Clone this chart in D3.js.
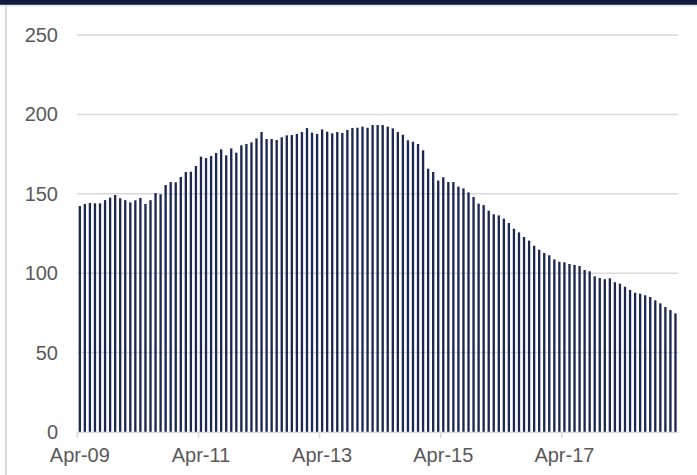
<!DOCTYPE html>
<html>
<head>
<meta charset="utf-8">
<script src="https://cdn.jsdelivr.net/npm/d3@7"></script>
<style>
  body { margin: 0; background: #fff; }
  svg { display: block; font-family: "Liberation Sans", Arial, sans-serif; }
</style>
</head>
<body>
<div id="chart"></div>
<script>
// monthly values, Apr-09 .. Feb-19
var values = [
  142.3, 143.6, 144.2, 144, 144, 146, 147.6, 149.2, 147.2, 146,
  144.6, 145.9, 147.4, 143.6, 146, 150.5, 149.7, 155.5, 157.4, 157.2,
  160.6, 163.7, 163.9, 167.5, 173.4, 172.5, 173.8, 175.7, 178, 174.2,
  178.6, 175.9, 180.5, 181.4, 182.4, 184.9, 188.9, 184.5, 184.5, 183.9,
  185.6, 186.8, 187, 187.7, 188.9, 191.4, 188.5, 187.7, 190.6, 189.1,
  188.1, 188.9, 188.3, 190.2, 191.4, 191.6, 192.3, 191.6, 193.3, 193.3,
  193.3, 192.3, 191.2, 188.9, 187.2, 183.7, 182.8, 181.4, 177.4, 165.8,
  163.7, 158.3, 160.4, 157.4, 157.4, 154.5, 153.4, 150.9, 148, 143.8,
  142.9, 139.4, 137.1, 136.4, 134.3, 131.6, 128, 125.7, 122.8, 120.5,
  117.3, 114.8, 112.7, 111.3, 108.7, 107.2, 106.9, 105.8, 105.2, 104.5,
  102, 101.2, 98, 97, 96.2, 96.8, 94.3, 93.4, 91.5, 89.4,
  87.7, 87.1, 86.1, 85, 82.9, 81, 78.7, 76.8, 74.7
];
var fmt = d3.timeFormat("%b-%y");
var months = d3.timeMonth.range(new Date(2009, 3, 1), new Date(2019, 2, 1)).map(fmt);
var xTicks = ["Apr-09", "Apr-11", "Apr-13", "Apr-15", "Apr-17"];
var yTicks = [0, 50, 100, 150, 200, 250];

var width = 697, height = 475;
var plotLeft = 77.3, plotRight = 678, plotTop = 35, plotBottom = 432;

var svg = d3.select("#chart").append("svg")
  .attr("width", width)
  .attr("height", height);

// frame
svg.append("rect").attr("x", 0).attr("y", 0).attr("width", width).attr("height", 5).attr("fill", "#111b3f");
svg.append("line").attr("x1", 0).attr("x2", width).attr("y1", 5.5).attr("y2", 5.5)
  .attr("stroke", "#e3e3e3").attr("stroke-width", 1.5);
svg.append("line").attr("x1", 6).attr("x2", 6).attr("y1", 5).attr("y2", height)
  .attr("stroke", "#d9d9d9").attr("stroke-width", 2);

var pad = 0.54;
var x = d3.scaleBand()
  .domain(months)
  .range([plotLeft, plotRight])
  .paddingInner(pad)
  .paddingOuter(pad / 2);

var y = d3.scaleLinear()
  .domain([0, 250])
  .range([plotBottom, plotTop]);

// gridlines
svg.append("g").selectAll("line")
  .data(yTicks.filter(function(d) { return d > 0; }))
  .enter().append("line")
  .attr("x1", plotLeft).attr("x2", plotRight)
  .attr("y1", function(d) { return y(d); })
  .attr("y2", function(d) { return y(d); })
  .attr("stroke", "#d9d9d9")
  .attr("stroke-width", 1.5);

// y labels
svg.append("g").selectAll("text")
  .data(yTicks)
  .enter().append("text")
  .attr("x", 58)
  .attr("y", function(d) { return y(d); })
  .attr("dy", "0.35em")
  .attr("text-anchor", "end")
  .attr("fill", "#595959")
  .style("font-size", "20px")
  .text(function(d) { return d; });

// bars
svg.append("g").selectAll("rect")
  .data(values)
  .enter().append("rect")
  .attr("x", function(d, i) { return x(months[i]); })
  .attr("y", function(d) { return y(d); })
  .attr("width", x.bandwidth())
  .attr("height", function(d) { return y(0) - y(d); })
  .attr("fill", "#1c2753");

// x axis, ticks sit on the band edges
var off = x.step() * pad / 2 + x.bandwidth() / 2;
var xAxis = svg.append("g")
  .attr("transform", "translate(0," + plotBottom + ")")
  .call(d3.axisBottom(x).tickValues(xTicks).tickSize(6).tickSizeOuter(0));
xAxis.select(".domain").attr("stroke", "#d9d9d9").attr("stroke-width", 1.5);
xAxis.selectAll(".tick line")
  .attr("x1", -off).attr("x2", -off)
  .attr("stroke", "#d9d9d9").attr("stroke-width", 1.5);
xAxis.selectAll(".tick text")
  .attr("y", 15.5)
  .attr("fill", "#595959")
  .style("font-size", "20px")
  .style("font-family", "'Liberation Sans', Arial, sans-serif");
</script>
</body>
</html>
